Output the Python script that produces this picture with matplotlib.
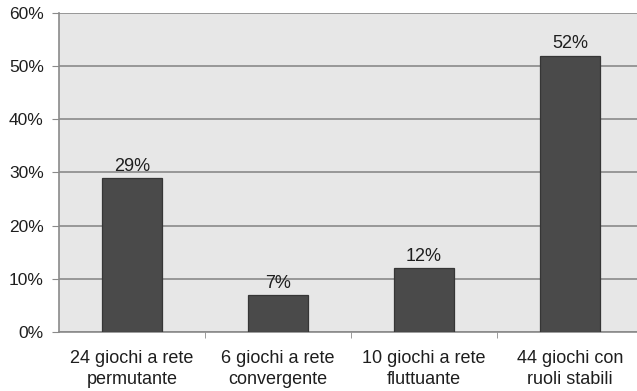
import matplotlib
matplotlib.use("Agg")
import matplotlib.pyplot as plt
from matplotlib.ticker import FixedLocator, PercentFormatter

categories = ["24 giochi a rete\npermutante", "6 giochi a rete\nconvergente",
              "10 giochi a rete\nfluttuante", "44 giochi con\nruoli stabili"]
values = [29, 7, 12, 52]
labels = ["29%", "7%", "12%", "52%"]
yticks = [0, 10, 20, 30, 40, 50, 60]

plt.rcParams['font.family'] = ['Liberation Sans', 'DejaVu Sans']

W, H = 637, 391
fig = plt.figure(figsize=(W / 100, H / 100), dpi=100)
fig.patch.set_facecolor("white")
left, right, top, bottom = 59, 643, 13, 332
ax = fig.add_axes([left / W, 1 - bottom / H, (right - left) / W, (bottom - top) / H])
ax.set_facecolor("#e7e7e7")

x = list(range(len(categories)))
ax.bar(x, values, width=0.41, color="#4a4a4a", edgecolor="#363636", linewidth=0.9, zorder=3)
for xi, v, lab in zip(x, values, labels):
    ax.text(xi, v + 0.6, lab, ha="center", va="bottom", fontsize=13, color="#1e1e1e", zorder=4)

ax.set_xlim(-0.5, len(categories) - 0.5)
ax.set_ylim(0, 60)
ax.yaxis.set_major_locator(FixedLocator(yticks))
ax.yaxis.set_major_formatter(PercentFormatter(decimals=0))
ax.grid(axis="y", color="#8a8a8a", linewidth=1.2, zorder=1)
ax.set_axisbelow(True)

ax.set_xticks(x)
ax.set_xticklabels(categories, fontsize=13, color="#1e1e1e", linespacing=1.3)
ax.xaxis.set_minor_locator(FixedLocator([i + 0.5 for i in range(len(categories) - 1)]))
ax.tick_params(axis="x", which="major", length=0, pad=13)
ax.tick_params(axis="x", which="minor", length=4, color="#8a8a8a")
ax.tick_params(axis="y", length=5, color="#8a8a8a", labelsize=12.5, labelcolor="#1e1e1e", pad=6)

for s in ["top", "right"]:
    ax.spines[s].set_visible(False)
for s in ["left", "bottom"]:
    ax.spines[s].set_color("#8a8a8a")
    ax.spines[s].set_linewidth(1.2)

fig.savefig("out.png", dpi=100)
